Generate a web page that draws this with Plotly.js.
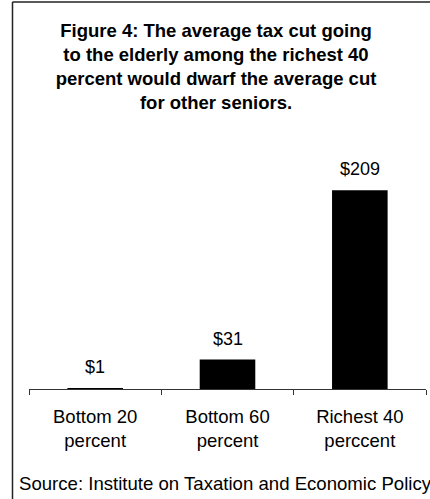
<!DOCTYPE html>
<html>
<head>
<meta charset="utf-8">
<script src="https://cdn.plot.ly/plotly-3.0.1.min.js"></script>
<style>
html,body{margin:0;padding:0;background:#fff;}
#chart{width:430px;height:499px;}
</style>
</head>
<body>
<div id="chart"></div>
<script>
// Data
const categories = ["Bottom 20<br>percent", "Bottom 60<br>percent", "Richest 40<br>perccent"];
const taxCut = [1, 31, 209];
const valueLabels = ["$1", "$31", "$209"];
const titleText = "Figure 4: The average tax cut going<br>to the elderly among the richest 40<br>percent would dwarf the average cut<br>for other seniors.";
const sourceText = "Source: Institute on Taxation and Economic Policy";

// Layout geometry
const W = 430, H = 499;
const M = {l: 29, r: 4, t: 120, b: 110};
const pw = W - M.l - M.r, ph = H - M.t - M.b;
const px2x = p => (p - M.l) / pw;
const px2y = p => (H - M.b - p) / ph;

const font = "Arial, 'Liberation Sans', sans-serif";

const trace = {
  type: "bar",
  x: categories,
  y: taxCut,
  marker: {color: "#000000", line: {width: 0}},
  hoverinfo: "none"
};

const annotations = categories.map((c, i) => ({
  x: c, y: taxCut[i], xref: "x", yref: "y",
  text: valueLabels[i], showarrow: false,
  yanchor: "middle", yshift: 21,
  font: {family: font, size: 18, color: "#000"}
}));
annotations.push({
  x: px2x(17), y: px2y(483), xref: "paper", yref: "paper",
  xanchor: "left", yanchor: "middle", showarrow: false,
  text: sourceText,
  font: {family: font, size: 18.6, color: "#000"}
});

const layout = {
  width: W, height: H,
  margin: M,
  paper_bgcolor: "#fff", plot_bgcolor: "#fff",
  showlegend: false,
  bargap: 0.58,
  title: {
    text: titleText,
    x: 216 / W, xref: "container", xanchor: "center",
    y: 1 - 37 / H, yref: "container", yanchor: "top",
    font: {family: font, size: 18.5, color: "#000", weight: "bold"}
  },
  xaxis: {
    type: "category",
    range: [-0.5, 2.5],
    showline: true, linecolor: "#333", linewidth: 1,
    ticks: "outside", tickson: "boundaries", ticklen: 5, tickcolor: "#333", tickwidth: 1,
    ticklabelstandoff: 11,
    showgrid: false, zeroline: false,
    tickfont: {family: font, size: 18.5, color: "#000"}
  },
  yaxis: {
    range: [0, 283],
    visible: false, showgrid: false, zeroline: false
  },
  annotations: annotations,
  shapes: [
    {type: "line", xref: "paper", yref: "paper",
     x0: px2x(12.5), x1: px2x(12.5), y0: px2y(2), y1: px2y(H + 5),
     line: {color: "#222", width: 1.5}},
    {type: "line", xref: "paper", yref: "paper",
     x0: px2x(12.5), x1: px2x(W + 5), y0: px2y(2), y1: px2y(2),
     line: {color: "#222", width: 1.5}}
  ]
};

Plotly.newPlot("chart", [trace], layout, {displayModeBar: false, staticPlot: true});
</script>
</body>
</html>
